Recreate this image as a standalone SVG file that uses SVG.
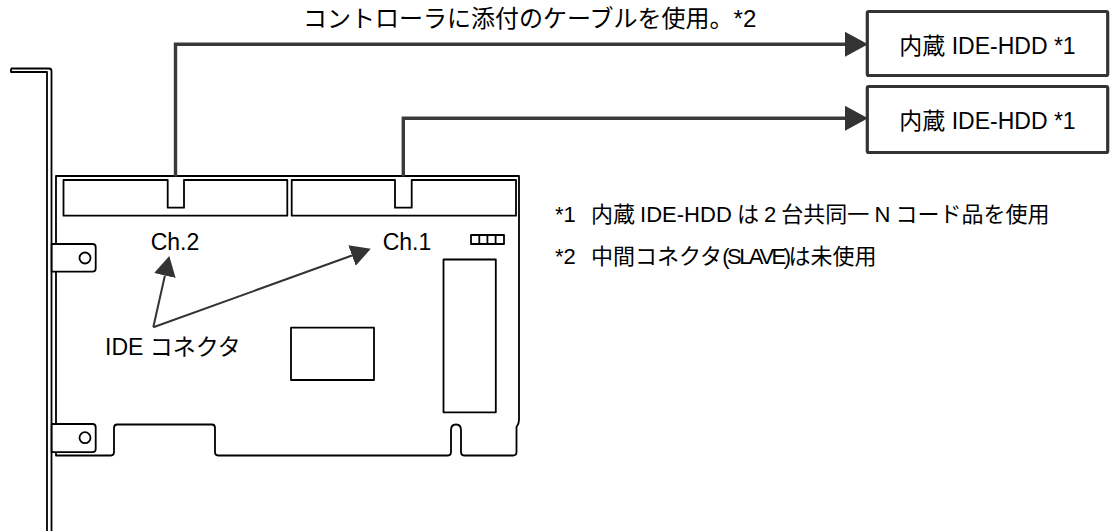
<svg xmlns="http://www.w3.org/2000/svg" width="1111" height="531" viewBox="0 0 1111 531">
<style>
  text { font-family: "Liberation Sans", "Noto Sans CJK JP", sans-serif; fill: #000; }
  .ol { fill: none; stroke: #000; stroke-width: 1.8; stroke-linejoin: round; }
  .olw { fill: #fff; stroke: #000; stroke-width: 1.8; stroke-linejoin: round; }
  .cable { fill: none; stroke: #3a3a3a; stroke-width: 3.4; stroke-linejoin: miter; }
  .ptr { fill: none; stroke: #333; stroke-width: 2; }
  .box { fill: #fff; stroke: #333; stroke-width: 3.2; }
</style>
<defs>
  <marker id="bigHead" markerUnits="userSpaceOnUse" markerWidth="23" markerHeight="25" refX="0" refY="12.5" orient="auto">
    <path d="M0,0 L23,12.5 L0,25 z" fill="#333"/>
  </marker>
  <marker id="smallHead" markerUnits="userSpaceOnUse" markerWidth="20" markerHeight="22" refX="0" refY="11" orient="auto">
    <path d="M0,0 L20,11 L0,22 z" fill="#333"/>
  </marker>
</defs>
<rect width="1111" height="531" fill="#fff"/>

<g id="bracket">
  <path class="ol" d="M11,68.5 H49 Q51.5,68.5 51.5,71 V531 M11,68.5 V72 H47 V531"/>
</g>

<g id="board">
  <path class="ol" d="M56,176 H519 V420 Q519,424 516.5,427 V452 Q516.5,455.5 513,455.5 H464 Q461,455.5 461,452 V430 Q461,424.5 456,424.5 Q451,424.5 451,430 V452 Q451,455.5 448,455.5 H218 Q215,455.5 215,452 V428 Q215,424.5 212,424.5 H117 Q114,424.5 114,428 V452 Q114,455.5 111,455.5 H56 Z"/>
  <path class="olw" d="M51.7,244 H92.5 Q95.7,244 95.7,247.2 V268.5 Q95.7,271.7 92.5,271.7 H51.7 Z"/>
  <circle class="ol" cx="85" cy="258" r="5.5"/>
  <path class="olw" d="M51.7,424 H92.5 Q95.7,424 95.7,427.2 V449 Q95.7,452.2 92.5,452.2 H51.7 Z"/>
  <circle class="ol" cx="85" cy="437.7" r="5.5"/>
</g>

<g id="ch2-connector">
  <path class="ol" d="M63.5,180 H167.7 V207.7 H184 V180 H287.3 V215.7 H63.5 Z"/>
  <text x="150.7" y="250" font-size="23">Ch.2</text>
</g>
<g id="ch1-connector">
  <path class="ol" d="M291.7,180 H395 V207.7 H411.7 V180 H516 V215.7 H291.7 Z"/>
  <text x="382.7" y="250" font-size="23">Ch.1</text>
</g>

<g id="led">
  <rect class="ol" x="471" y="235" width="33" height="9"/>
  <path class="ol" d="M479.3,235 V244 M487.4,235 V244 M495.6,235 V244"/>
</g>
<g id="slot-chip">
  <rect class="ol" x="443.5" y="259.5" width="52.3" height="152.8"/>
</g>
<g id="controller-chip">
  <rect class="ol" x="291" y="327.7" width="83" height="52.3"/>
</g>

<g id="ide-label">
  <text x="105" y="355" font-size="23">IDE コネクタ</text>
</g>

<g id="hdd1">
  <rect class="box" x="867.3" y="11.5" width="240.4" height="64" rx="1.5"/>
  <text x="987.5" y="54" font-size="23" text-anchor="middle">内蔵 IDE-HDD *1</text>
</g>
<g id="hdd2">
  <rect class="box" x="867.3" y="86.5" width="240.4" height="66" rx="1.5"/>
  <text x="987.5" y="129" font-size="23" text-anchor="middle">内蔵 IDE-HDD *1</text>
</g>

<g id="cable-label">
  <text x="303" y="27" font-size="24">コントローラに添付のケーブルを使用。*2</text>
</g>

<g id="notes" font-size="22">
  <text x="555" y="222">*1<tspan x="591" word-spacing="-1">内蔵 IDE-HDD は 2 台共同一 N コード品を使用</tspan></text>
  <text x="555" y="264">*2<tspan x="591">中間コネクタ</tspan><tspan letter-spacing="-2.5">(SLAVE)</tspan>は未使用</text>
</g>

<g id="connectors">
  <path class="cable" d="M175.5,176.5 V44.3 H845" marker-end="url(#bigHead)"/>
  <path class="cable" d="M403.3,176.5 V118.3 H845" marker-end="url(#bigHead)"/>
  <path class="ptr" d="M153.3,327.3 L164.9,275.5" marker-end="url(#smallHead)"/>
  <path class="ptr" d="M153.3,327.3 L352,255.5" marker-end="url(#smallHead)"/>
</g>
</svg>
